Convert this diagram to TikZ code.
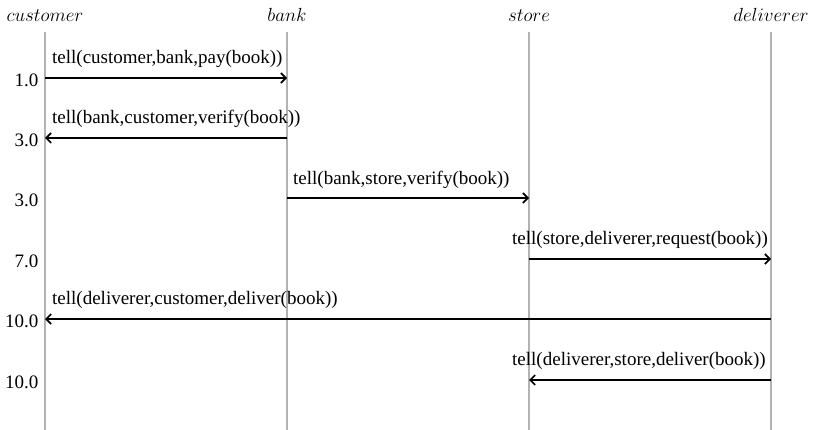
\RequirePackage{fix-cm}
\documentclass[tikz,border=0pt]{standalone}
\usepackage{fontspec}
\setmainfont{Liberation Serif}
\usetikzlibrary{arrows.meta}

\tikzset{
  actor/.style={anchor=base, inner sep=0pt, font=\fontsize{19}{23}\selectfont},
  lifeline/.style={draw=black!30, line width=1.3pt},
  msg/.style={draw=black, line width=2pt, -{Straight Barb[length=5pt,width=10pt,line width=1.6pt]}},
  msglabel/.style={anchor=base west, inner sep=0pt, font=\fontsize{19}{23}\selectfont},
  timelabel/.style={anchor=base east, inner sep=0pt, font=\fontsize{19}{23}\selectfont},
}

\begin{document}
\begin{tikzpicture}[x=1pt, y=-1pt]
  \useasboundingbox (0,0) rectangle (813,430);

  % lifeline positions
  \def\xc{45}  \def\xb{287}  \def\xs{529}  \def\xd{771}

  % actors
  \node[actor] (customer)  at (\xc,22) {$customer$};
  \node[actor] (bank)      at (\xb,22) {$bank$};
  \node[actor] (store)     at (\xs,22) {$store$};
  \node[actor] (deliverer) at (\xd,22) {$deliverer$};

  % lifelines
  \foreach \n/\x in {c/\xc, b/\xb, s/\xs, d/\xd} {
    \coordinate (\n-top) at (\x,32);
    \coordinate (\n-bot) at (\x,430);
    \draw[lifeline] (\n-top) -- (\n-bot);
  }

  % message anchor points on the lifelines
  \foreach \i/\y in {1/78, 2/138, 3/198, 4/259, 5/319, 6/380} {
    \coordinate (c\i) at (\xc,\y);
    \coordinate (b\i) at (\xb,\y);
    \coordinate (s\i) at (\xs,\y);
    \coordinate (d\i) at (\xd,\y);
  }

  % messages
  \draw[msg] (c1) -- (b1);
  \draw[msg] (b2) -- (c2);
  \draw[msg] (b3) -- (s3);
  \draw[msg] (s4) -- (d4);
  \draw[msg] (d5) -- (c5);
  \draw[msg] (d6) -- (s6);

  % message labels
  \node[msglabel] (m1) at (52,63.3)   {tell(customer,bank,pay(book))};
  \node[msglabel] (m2) at (52,123.7)  {tell(bank,customer,verify(book))};
  \node[msglabel] (m3) at (293,184.1) {tell(bank,store,verify(book))};
  \node[msglabel] (m4) at (512,244.5) {tell(store,deliverer,request(book))};
  \node[msglabel] (m5) at (52,304.9)  {tell(deliverer,customer,deliver(book))};
  \node[msglabel] (m6) at (512,365.3) {tell(deliverer,store,deliver(book))};

  % time stamps
  \node[timelabel] (t1) at (38.5,86.2)  {1.0};
  \node[timelabel] (t2) at (38.5,146.6) {3.0};
  \node[timelabel] (t3) at (38.5,207.0) {3.0};
  \node[timelabel] (t4) at (38.5,267.4) {7.0};
  \node[timelabel] (t5) at (38.5,327.8) {10.0};
  \node[timelabel] (t6) at (38.5,388.2) {10.0};
\end{tikzpicture}
\end{document}
